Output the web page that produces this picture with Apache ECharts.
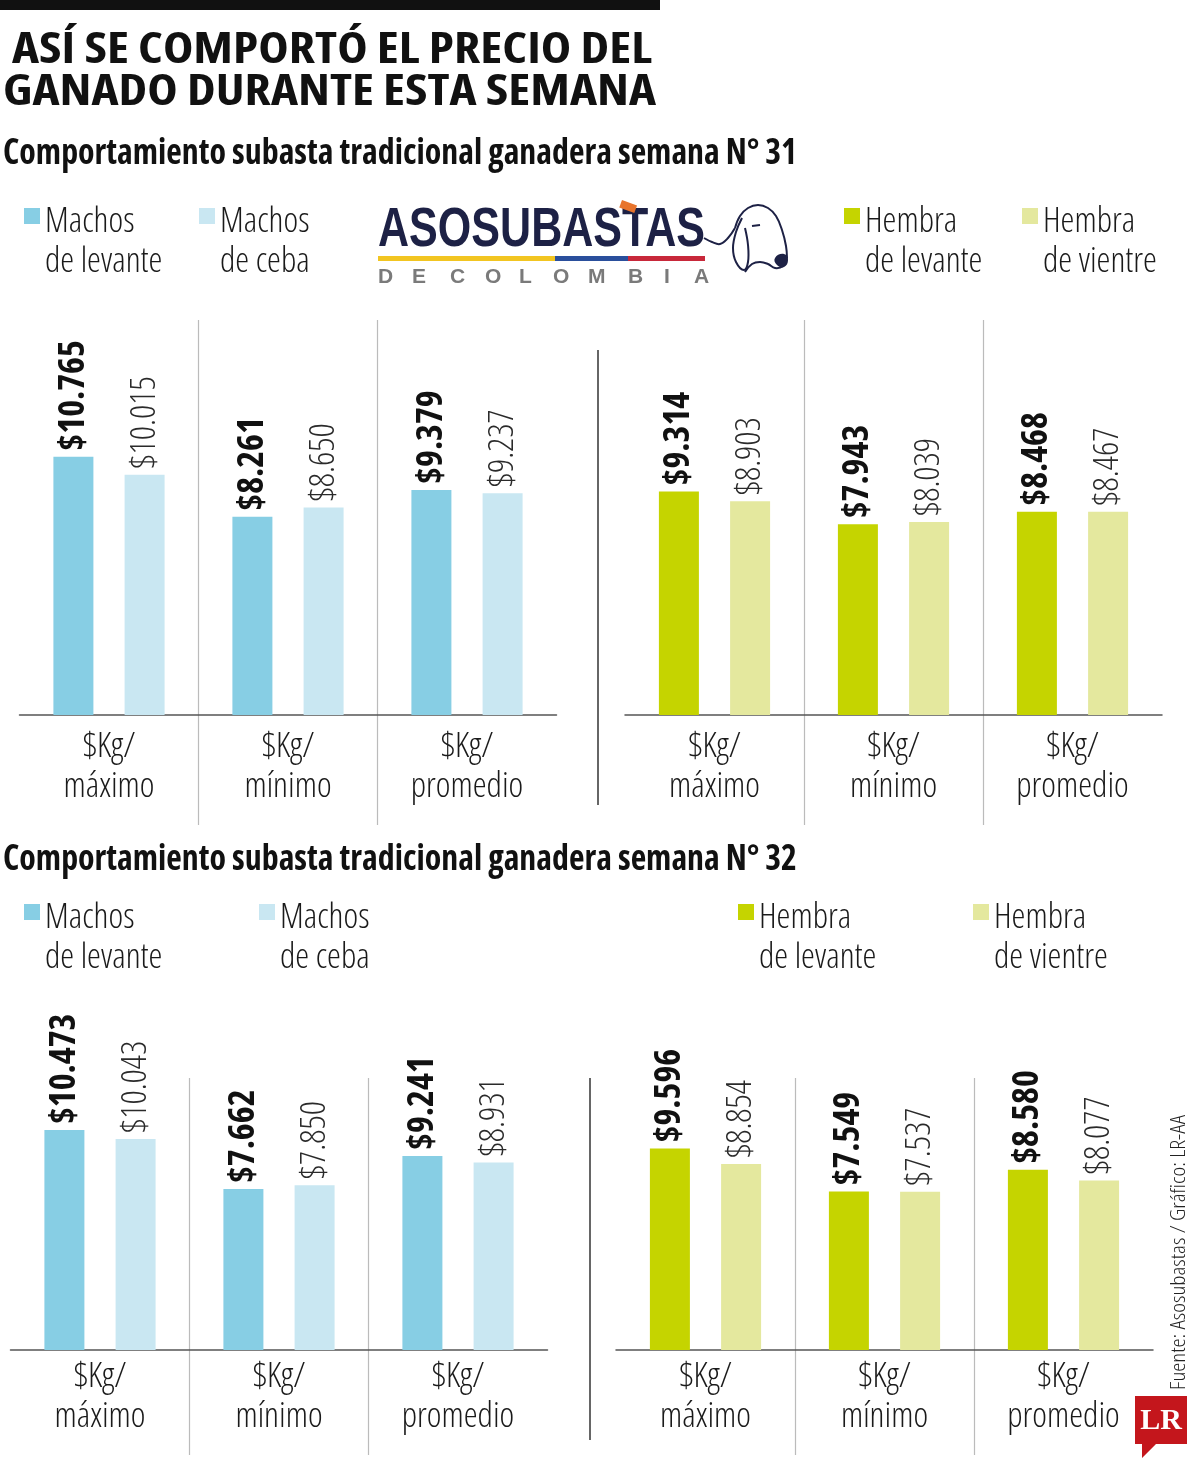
<!DOCTYPE html>
<html>
<head>
<meta charset="utf-8">
<script src="https://cdn.jsdelivr.net/npm/echarts@6/dist/echarts.min.js"></script>
<style>
  body { margin: 0; background: #fff; }
  #grafico { width: 1200px; height: 1470px; }
</style>
</head>
<body>
<div id="grafico"></div>
<script>
// datos (pesos por kg)
const categorias = ['$Kg/\nmáximo', '$Kg/\nmínimo', '$Kg/\npromedio'];
const nombresMachos = ['Machos de levante', 'Machos de ceba'];
const nombresHembras = ['Hembra de levante', 'Hembra de vientre'];
const s31MachosLevante = [10765, 8261, 9379];
const s31MachosCeba = [10015, 8650, 9237];
const s31HembraLevante = [9314, 7943, 8468];
const s31HembraVientre = [8903, 8039, 8467];
const s32MachosLevante = [10473, 7662, 9241];
const s32MachosCeba = [10043, 7850, 8931];
const s32HembraLevante = [9596, 7549, 8580];
const s32HembraVientre = [8854, 7537, 8077];

const colores = {
  'Machos de levante': '#87cee4',
  'Machos de ceba': '#c9e7f2',
  'Hembra de levante': '#c5d400',
  'Hembra de vientre': '#e4e89e'
};

// buscar una letra estrecha entre las instaladas
const ctx = document.createElement('canvas').getContext('2d');
function medir(font, t) {
  ctx.font = font;
  return ctx.measureText(t).width;
}
const muestra = 'Machos de levante 0123456789';
function existe(fam) {
  return medir("40px " + fam + ", monospace", muestra) !== medir("40px monospace", muestra);
}
function estrecha(fam) {
  const normal = medir("40px " + fam, muestra);
  return existe(fam) && medir("condensed 40px " + fam, muestra) < normal * 0.9;
}
let fuente = "'DejaVu Sans Condensed', sans-serif", estilo = 'normal', fino = 'normal';
if (estrecha("'Open Sans'")) { fuente = "'Open Sans'"; estilo = 'condensed'; fino = 300; }
else if (estrecha("'Noto Sans'")) { fuente = "'Noto Sans'"; estilo = 'condensed'; fino = 300; }
else if (existe("'Liberation Sans Narrow'")) { fuente = "'Liberation Sans Narrow'"; }

function fmt(v) {
  return '$' + String(v).replace(/\B(?=(\d{3})+(?!\d))/g, '.');
}
function escalaTexto(texto, font, ancho) {
  ctx.font = font;
  return ancho / ctx.measureText(texto).width;
}

// paneles: posicion de cada rejilla y rango del eje (el cero queda en la linea base)
const paneles = [
  { left: 19.5, top: 320, height: 505, min: -4583, max: 16458, margen: 18 },
  { left: 625, top: 320, height: 505, min: -4583, max: 16458, margen: 18 },
  { left: 10.5, top: 1078, height: 377, min: -5000, max: 12952, margen: 18 },
  { left: 616, top: 1078, height: 377, min: -5000, max: 12952, margen: 18 }
];

function barra(nombre, data, idx, oscuro) {
  return {
    type: 'bar', name: nombre, data: data,
    xAxisIndex: idx, yAxisIndex: idx,
    barWidth: 40, barGap: '78%',
    itemStyle: { color: colores[nombre] },
    label: {
      show: true, position: 'top', distance: 6, rotate: 90,
      align: 'left', verticalAlign: 'middle',
      formatter: p => fmt(p.value),
      fontFamily: fuente, fontStyle: estilo,
      fontSize: oscuro ? 36 : 35,
      fontWeight: oscuro ? 'bold' : fino,
      color: oscuro ? '#111' : '#2a2a2a'
    },
    emphasis: { disabled: true }
  };
}

// el icono lleva un punto invisible abajo para que quede a la altura de la primera linea
function leyenda(nombre, left, top) {
  return {
    data: [nombre], left: left, top: top - 6, padding: 0,
    itemWidth: 16, itemHeight: 68, selectedMode: false,
    icon: 'path://M0,0H16V16H0Z M16,68 L16,67.99 L15.99,67.99 Z',
    itemStyle: { borderWidth: 0 },
    formatter: n => n.replace(' de ', '\nde '),
    textStyle: { fontFamily: fuente, fontStyle: estilo, fontWeight: fino, fontSize: 35, lineHeight: 40, color: '#1a1a1a' }
  };
}

const fTitulo = estilo + " bold 42px " + fuente;
const fSub = estilo + " bold 36px " + fuente;
const fFuente = estilo + " " + fino + " 21px " + fuente;
const fLogo = "bold 56px 'Liberation Sans', sans-serif";

const titulo1 = 'ASÍ SE COMPORTÓ EL PRECIO DEL';
const titulo2 = 'GANADO DURANTE ESTA SEMANA';
const sub31 = 'Comportamiento subasta tradicional ganadera semana N° 31';
const sub32 = 'Comportamiento subasta tradicional ganadera semana N° 32';
const textoFuente = 'Fuente: Asosubastas / Gráfico: LR-AA';

const letrasColombia = ['D', 'E', 'C', 'O', 'L', 'O', 'M', 'B', 'I', 'A'];
const xColombia = [378, 412, 450, 485, 519, 553, 588, 628, 664, 694];
const trazo = { fill: null, stroke: '#1d2145', lineWidth: 2 };

const graficos = [
  { type: 'rect', shape: { x: 0, y: 0, width: 660, height: 10 }, style: { fill: '#111' } },
  { type: 'text', x: 12, y: 30, scaleX: escalaTexto(titulo1, fTitulo, 640),
    style: { text: titulo1, font: fTitulo, fill: '#111' } },
  { type: 'text', x: 3, y: 72, scaleX: escalaTexto(titulo2, fTitulo, 653),
    style: { text: titulo2, font: fTitulo, fill: '#111' } },
  { type: 'text', x: 3, y: 136, scaleX: escalaTexto(sub31, fSub, 794),
    style: { text: sub31, font: fSub, fill: '#111' } },
  { type: 'text', x: 3, y: 842, scaleX: escalaTexto(sub32, fSub, 794),
    style: { text: sub32, font: fSub, fill: '#111' } },
  // logo asosubastas
  { type: 'text', x: 378, y: 203, scaleX: escalaTexto('ASOSUBASTAS', fLogo, 327),
    style: { text: 'ASOSUBASTAS', font: fLogo, fill: '#1d2145' } },
  { type: 'rect', shape: { x: 378, y: 256, width: 177, height: 5 }, style: { fill: '#f2c521' } },
  { type: 'rect', shape: { x: 555, y: 256, width: 73, height: 5 }, style: { fill: '#2a4f9c' } },
  { type: 'rect', shape: { x: 628, y: 256, width: 77, height: 5 }, style: { fill: '#c8283a' } },
  { type: 'rect', x: 622, y: 200, rotation: -0.35, shape: { x: 0, y: 0, width: 16, height: 8 }, style: { fill: '#e8742c' } },
  { type: 'polyline', shape: { smooth: 0.4, points: [[704, 238], [712, 242], [720, 244], [728, 238], [735, 228]] }, style: trazo },
  { type: 'polyline', shape: { smooth: 0.4, points: [[735, 228], [740, 216], [748, 208], [758, 205], [768, 208], [776, 216], [782, 230], [786, 246], [787, 258]] }, style: trazo },
  { type: 'polyline', shape: { smooth: 0.4, points: [[787, 258], [783, 266], [775, 268], [768, 264], [760, 262], [752, 264], [745, 272]] }, style: trazo },
  { type: 'polyline', shape: { smooth: 0.4, points: [[742, 218], [736, 232], [733, 248], [736, 262], [744, 270], [748, 262], [748, 245], [745, 228]] }, style: trazo },
  { type: 'line', shape: { x1: 752, y1: 226, x2: 760, y2: 225 }, style: trazo },
  { type: 'polygon', shape: { smooth: 0.5, points: [[775, 258], [784, 254], [788, 260], [784, 267], [777, 265]] }, style: { fill: '#1d2145' } },
  // divisores entre machos y hembras
  { type: 'line', shape: { x1: 598, y1: 350, x2: 598, y2: 805 }, style: { stroke: '#333', lineWidth: 1.5 } },
  { type: 'line', shape: { x1: 590, y1: 1078, x2: 590, y2: 1440 }, style: { stroke: '#333', lineWidth: 1.5 } },
  // fuente
  { type: 'text', x: 1179, y: 1390, rotation: Math.PI / 2, scaleX: escalaTexto(textoFuente, fFuente, 275),
    style: { text: textoFuente, font: fFuente, fill: '#222', align: 'left', verticalAlign: 'middle' } },
  // logo LR
  { type: 'polygon', shape: { points: [[1135, 1396], [1187, 1396], [1187, 1444], [1156, 1444], [1142, 1458], [1142, 1444], [1135, 1444]] },
    style: { fill: '#c4161c' } },
  { type: 'text', x: 1161, y: 1421,
    style: { text: 'LR', font: "bold 30px 'Liberation Serif', serif", fill: '#fff', align: 'center', verticalAlign: 'middle' } }
];
letrasColombia.forEach((l, i) => {
  graficos.push({ type: 'text', x: xColombia[i], y: 267,
    style: { text: l, font: "bold 21px 'Liberation Sans', sans-serif", fill: '#7a7a7a' } });
});

const option = {
  backgroundColor: '#fff',
  animation: false,
  grid: paneles.map(p => ({ left: p.left, top: p.top, width: 537, height: p.height })),
  xAxis: paneles.map((p, i) => ({
    type: 'category', gridIndex: i, data: categorias,
    axisLine: { onZero: true, lineStyle: { color: '#555', width: 1.5 } },
    axisTick: { show: false },
    axisLabel: { interval: 0, inside: true, margin: p.margen, fontFamily: fuente, fontStyle: estilo, fontWeight: fino,
      fontSize: 35, lineHeight: 40, color: '#1a1a1a' },
    splitLine: { show: true, interval: 0, showMinLine: false, showMaxLine: false, lineStyle: { color: '#bbb', width: 1.2 } }
  })),
  yAxis: paneles.map((p, i) => ({
    type: 'value', gridIndex: i, min: p.min, max: p.max,
    axisLine: { show: false }, axisTick: { show: false }, axisLabel: { show: false }, splitLine: { show: false }
  })),
  legend: [
    leyenda(nombresMachos[0], 24, 208),
    leyenda(nombresMachos[1], 199, 208),
    leyenda(nombresHembras[0], 844, 208),
    leyenda(nombresHembras[1], 1022, 208),
    leyenda(nombresMachos[0], 24, 904),
    leyenda(nombresMachos[1], 259, 904),
    leyenda(nombresHembras[0], 738, 904),
    leyenda(nombresHembras[1], 973, 904)
  ],
  series: [
    barra('Machos de levante', s31MachosLevante, 0, true),
    barra('Machos de ceba', s31MachosCeba, 0, false),
    barra('Hembra de levante', s31HembraLevante, 1, true),
    barra('Hembra de vientre', s31HembraVientre, 1, false),
    barra('Machos de levante', s32MachosLevante, 2, true),
    barra('Machos de ceba', s32MachosCeba, 2, false),
    barra('Hembra de levante', s32HembraLevante, 3, true),
    barra('Hembra de vientre', s32HembraVientre, 3, false)
  ],
  graphic: graficos
};

const chart = echarts.init(document.getElementById('grafico'));
chart.setOption(option);
</script>
</body>
</html>
